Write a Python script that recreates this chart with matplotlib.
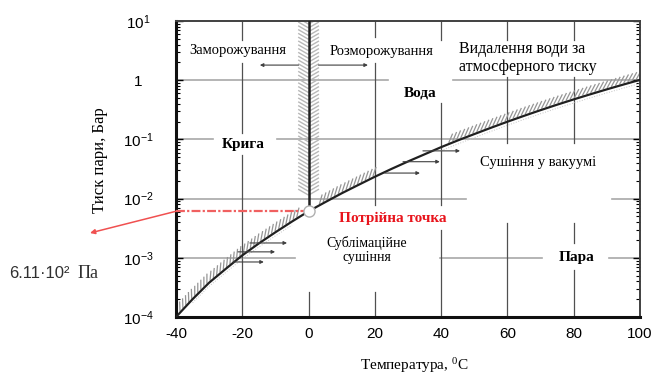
import numpy as np
import matplotlib
matplotlib.use("Agg")
import matplotlib.pyplot as plt
from matplotlib.collections import LineCollection
from matplotlib.transforms import IdentityTransform

# saturation curve of water (temperature, C / pressure, bar)
temps = [-40, -35, -30, -25, -20, -15, -10, -5, 0, 5, 10, 15, 20, 25, 30, 35,
         40, 45, 50, 55, 60, 65, 70, 75, 80, 85, 90, 95, 100]
pressure = [1.0e-4, 2.0e-4, 3.8e-4, 6.5e-4, 1.1e-3, 1.75e-3, 2.7e-3, 4.1e-3, 6.11e-3,
            8.7e-3, 1.23e-2, 1.7e-2, 2.34e-2, 3.17e-2, 4.24e-2, 5.6e-2, 7.4e-2,
            9.6e-2, 0.123, 0.157, 0.199, 0.25, 0.312, 0.386, 0.474, 0.578, 0.701,
            0.845, 1.013]

triple_t = 0
triple_p = 6.11e-3

x_ticks = [-40, -20, 0, 20, 40, 60, 80, 100]
y_ticks = [1e-4, 1e-3, 1e-2, 1e-1, 1, 10]
y_tick_labels = ["$\\mathregular{10^{-4}}$", "$\\mathregular{10^{-3}}$",
                 "$\\mathregular{10^{-2}}$", "$\\mathregular{10^{-1}}$", "1",
                 "$\\mathregular{10^{1}}$"]

# process arrows: (t_start, t_end, pressure)
arrow_t0 = [-3, 3, -17.7, -21.3, -22.8, 34.5, 28.5, 23.0]
arrow_t1 = [-14.7, 17.9, -6.5, -10.1, -13.5, 45.7, 39.6, 33.6]
arrow_p = [1.8, 1.8, 1.78e-3, 1.26e-3, 8.5e-4, 0.064, 0.042, 0.027]

SERIF = ["Liberation Serif", "DejaVu Serif"]
SANS = ["Liberation Sans", "DejaVu Sans"]
plt.rcParams["font.family"] = SANS

fig = plt.figure(figsize=(6.56, 3.77), dpi=100)
ax = fig.add_axes([176 / 656, 1 - 317 / 377, 464 / 656, 296 / 377])
ax.set_yscale("log")
ax.set_xlim(-40, 100)
ax.set_ylim(1e-4, 10)

T = np.array(temps)
P = np.array(pressure)


# short hatch strokes drawn along a curve, in pixel space
def hatch_strokes(xs, ys, step=4.3, length=10, turn=45, color="#959595", lw=0.9):
    pts = ax.transData.transform(np.column_stack([xs, ys]))
    seg = np.hypot(np.diff(pts[:, 0]), np.diff(pts[:, 1]))
    s = np.concatenate([[0], np.cumsum(seg)])
    at = np.arange(1, s[-1], step)
    px = np.interp(at, s, pts[:, 0])
    py = np.interp(at, s, pts[:, 1])
    idx = np.clip(np.searchsorted(s, at) - 1, 0, len(seg) - 1)
    ang = np.arctan2(np.diff(pts[:, 1]), np.diff(pts[:, 0]))[idx] + np.radians(turn)
    lines = [[(x, y), (x + length * np.cos(a), y + length * np.sin(a))]
             for x, y, a in zip(px, py, ang)]
    lc = LineCollection(lines, colors=color, linewidths=lw,
                        transform=IdentityTransform(), zorder=2)
    ax.add_collection(lc, autolim=False)


# grid segments with gaps left for the labels
grid_h = [
    (1, [(-40, 24), (43.6, 100)]),
    (0.1, [(-40, -28.8), (-9.5, 100)]),
    (0.01, [(-40, 47.5), (91.5, 100)]),
    (1e-3, [(-40, -4.1), (39.6, 70.4), (90.6, 100)]),
]
for yv, segs in grid_h:
    for a, b in segs:
        ax.plot([a, b], [yv, yv], color="#a8a8a8", lw=1.2, zorder=1)

grid_v = [
    (-20, [(4.8, 10), (0.13, 1.95), (1e-4, 0.055)]),
    (0, [(1e-4, 2.6e-4)]),
    (20, [(5.4, 10), (7.8e-3, 1.95), (1e-4, 2.6e-4)]),
    (40, [(4.8, 10), (7.8e-3, 0.41), (1e-4, 2.95e-3)]),
    (60, [(4.8, 10), (0.087, 1.13), (1e-4, 3.9e-3)]),
    (80, [(4.8, 10), (0.087, 1.13), (1.78e-3, 3.9e-3), (1e-4, 6.3e-4)]),
]
for xv, segs in grid_v:
    for a, b in segs:
        ax.plot([xv, xv], [a, b], color="#505050", lw=0.9, zorder=1)

# hatching along the saturation curve
for lo, hi in [(-39, -3), (3, 20), (42, 100)]:
    m = (T >= lo - 5) & (T <= hi + 5)
    tt = np.clip(T[m], lo, hi)
    pp = np.exp(np.interp(tt, T, np.log(P)))
    hatch_strokes(tt, pp * 1.05)
for lo, hi in [(-35, -5), (40, 100)]:
    m = (T >= lo) & (T <= hi)
    ax.plot(T[m], P[m] * 0.87, color="#c4c4c4", lw=0.7, ls=":", zorder=2)

# hatching around the melting line
hatch_strokes([triple_t, triple_t], [0.011, 10], step=3.8, length=12, turn=60,
              color="#b8b8b8", lw=1.0)
hatch_strokes([triple_t, triple_t], [0.011, 10], step=3.8, length=12, turn=-60,
              color="#b8b8b8", lw=1.0)

ax.plot(T, P, color="#202020", lw=1.6, zorder=4)
ax.plot([triple_t, triple_t], [triple_p, 10], color="#202020", lw=1.8, zorder=4)

# red triple point line and pointer
ax.plot([-40, triple_t], [triple_p, triple_p], color="#f06060", lw=1.6,
        ls=(0, (4, 1, 1, 1)), zorder=3)
ax.plot(triple_t, triple_p, "o", ms=8, mfc="white", mec="#b0b0b0", mew=1, zorder=5)
ax.annotate("", xy=(90 / 656, 1 - 233 / 377), xycoords="figure fraction",
            xytext=(-40, triple_p), textcoords="data",
            arrowprops=dict(arrowstyle="-|>", color="#f05050", lw=1.1,
                            shrinkA=0, shrinkB=0, mutation_scale=7),
            annotation_clip=False)

for t0, t1, p in zip(arrow_t0, arrow_t1, arrow_p):
    ax.annotate("", xy=(t1, p), xytext=(t0, p),
                arrowprops=dict(arrowstyle="-|>", color="#404040", lw=0.8,
                                shrinkA=0, shrinkB=0, mutation_scale=5),
                zorder=4)

# region labels
ax.text(-21.3, 3.2, "Заморожування", family=SERIF, fontsize=10.5,
        ha="center", va="center", zorder=6)
ax.text(21.9, 3.0, "Розморожування", family=SERIF, fontsize=10.5,
        ha="center", va="center", zorder=6)
ax.text(45.4, 2.37, "Видалення води за\nатмосферного тиску", family=SERIF,
        fontsize=11.5, ha="left", va="center", linespacing=1.15, zorder=6)
ax.text(33.6, 0.61, "Вода", family=SERIF, fontsize=11, fontweight="bold",
        ha="center", va="center", zorder=6)
ax.text(-19.8, 0.0835, "Крига", family=SERIF, fontsize=11, fontweight="bold",
        ha="center", va="center", zorder=6)
ax.text(69.2, 0.040, "Сушіння у вакуумі", family=SERIF, fontsize=10.5,
        ha="center", va="center", zorder=6)
ax.text(25.5, 4.7e-3, "Потрійна точка", family=SERIF, fontsize=11,
        fontweight="bold", color="#e8141c", ha="center", va="center", zorder=6)
ax.text(17.6, 1.35e-3, "Сублімаційне\nсушіння", family=SERIF, fontsize=10,
        ha="center", va="center", linespacing=1.1, zorder=6)
ax.text(81.0, 1.0e-3, "Пара", family=SERIF, fontsize=11, fontweight="bold",
        ha="center", va="center", zorder=6)

# axes styling
ax.set_xticks(x_ticks)
ax.set_xticklabels([str(v) for v in x_ticks], fontsize=11)
ax.set_yticks(y_ticks)
ax.set_yticklabels(y_tick_labels, fontsize=11, ha="center")
ax.tick_params(axis="x", length=0, pad=7)
ax.tick_params(axis="y", which="major", direction="in", length=5, pad=27,
               right=True, width=1)
ax.tick_params(axis="y", which="minor", direction="in", length=3, right=True,
               width=0.8)
ax.yaxis.set_minor_formatter(matplotlib.ticker.NullFormatter())
for side in ["left", "bottom"]:
    ax.spines[side].set_linewidth(2.2)
    ax.spines[side].set_color("#101010")
for side in ["top", "right"]:
    ax.spines[side].set_linewidth(1.4)
    ax.spines[side].set_color("#404040")

fig.text(100 / 656, 1 - 160 / 377, "Тиск пари, Бар", family=SERIF, fontsize=12,
         rotation=90, ha="center", va="center")
fig.text(414 / 656, 1 - 366 / 377, "Температура, $\\mathregular{^0}$C",
         family=SERIF, fontsize=11, ha="center", va="center")
fig.text(9 / 656, 1 - 273 / 377, "6.11·10²", family=SANS, fontsize=12,
         ha="left", va="center", color="#303030")
fig.text(78 / 656, 1 - 273 / 377, "Па", family=SERIF, fontsize=13,
         ha="left", va="center", color="#303030")

fig.savefig("out.png", dpi=100)
